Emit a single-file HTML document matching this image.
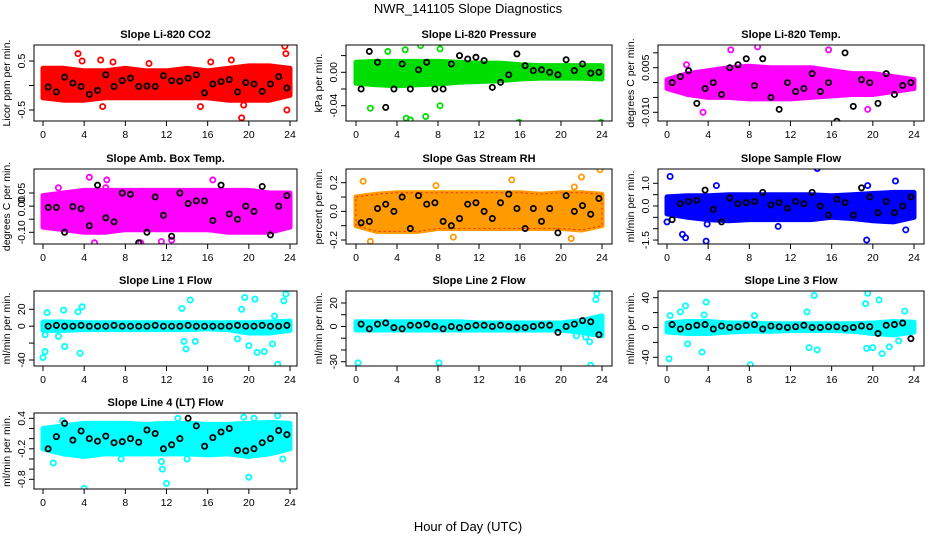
<!DOCTYPE html>
<html><head><meta charset="utf-8"><style>
html,body{margin:0;padding:0;background:#fff;}
svg{display:block;font-family:"Liberation Sans",Arial,sans-serif;}
</style></head><body>
<svg id="chart" width="936" height="540" viewBox="0 0 936 540">
<text x="468" y="13" text-anchor="middle" font-size="13">NWR_141105  Slope Diagnostics</text>
<text x="468" y="531" text-anchor="middle" font-size="13">Hour of Day (UTC)</text>
</svg>
<script>
// ---- data arrays ----
const bandHours = [0,2,4,6,8,10,12,14,16,18,20,22,24];
const blackHours = [0.5,1.3,2.1,2.9,3.7,4.5,5.3,6.1,6.9,7.7,8.5,9.3,10.1,10.9,11.7,12.5,13.3,14.1,14.9,15.7,16.5,17.3,18.1,18.9,19.7,20.5,21.3,22.1,22.9,23.7];
const xTicks = [0,4,8,12,16,20,24];

const co2Hi = [0.35,0.35,0.3,0.3,0.35,0.3,0.3,0.35,0.3,0.35,0.4,0.4,0.35];
const co2Lo = [-0.25,-0.3,-0.3,-0.25,-0.25,-0.25,-0.25,-0.25,-0.25,-0.3,-0.3,-0.3,-0.2];
const co2Out = [[3.4,0.65],[3.8,0.5],[5.6,0.52],[5.8,-0.43],[6.8,0.48],[15.3,-0.43],[16.3,0.48],[19.3,-0.66],[19.5,-0.4],[18.3,0.52],[23.5,0.8],[23.6,0.65],[23.7,-0.5],[2.2,-0.27],[10.3,0.45]];
const co2Black = [-0.03,-0.13,0.17,0.05,-0.02,-0.18,-0.1,0.22,-0.02,0.1,0.15,-0.02,-0.01,-0.02,0.2,0.1,0.09,0.15,0.22,-0.15,0.03,0.08,0.12,-0.13,0.06,0.03,-0.12,0.03,0.18,-0.05];

const presHi = [0.012,0.013,0.013,0.013,0.013,0.012,0.011,0.011,0.009,0.008,0.008,0.008,0.008];
const presLo = [-0.013,-0.015,-0.016,-0.015,-0.014,-0.012,-0.011,-0.01,-0.008,-0.007,-0.007,-0.007,-0.008];
const presOut = [[8,-0.062],[8.2,-0.04],[5.3,-0.057],[15.9,-0.06],[23.9,-0.06],[6.3,0.032],[8.2,0.028],[4.8,0.027],[3.1,0.025],[1.4,-0.043],[6.8,-0.053],[4.9,-0.055]];
const presBlack = [-0.02,0.025,0.012,-0.042,-0.02,0.01,-0.02,0.003,0.012,-0.02,-0.02,0.01,0.02,0.016,0.018,0.014,-0.018,-0.012,-0.003,0.022,0.008,0.002,0.003,0.0,-0.003,0.015,0.002,0.01,-0.001,0.0];

const tempHi = [0.001,0.003,0.004,0.005,0.0055,0.005,0.005,0.005,0.004,0.003,0.003,0.002,0.001];
const tempLo = [-0.002,-0.004,-0.005,-0.005,-0.0055,-0.0055,-0.0055,-0.005,-0.0045,-0.004,-0.004,-0.003,-0.002];
const tempOut = [[8.2,-0.014],[12,-0.014],[14.5,-0.014],[8.8,0.012],[6.2,0.011],[3.5,-0.01],[15.7,0.011],[19.5,-0.009],[1.9,0.006]];
const tempBlack = [0.0,0.002,0.004,-0.007,-0.002,0.0,-0.004,0.005,0.006,0.008,-0.001,0.008,-0.005,-0.009,0.0,-0.003,-0.002,0.003,-0.003,0.0,-0.013,0.01,-0.008,0.001,0.0,-0.007,0.003,-0.004,-0.001,0.0];

const ambHi = [0.04,0.05,0.06,0.06,0.06,0.06,0.06,0.06,0.06,0.06,0.06,0.05,0.05];
const ambLo = [-0.08,-0.09,-0.1,-0.1,-0.09,-0.09,-0.09,-0.09,-0.09,-0.1,-0.1,-0.1,-0.08];
const ambOut = [[1.5,0.07],[4.5,0.11],[6.2,0.1],[6.1,0.07],[5,-0.14],[9.5,-0.14],[11.5,-0.135],[23.3,-0.16],[16.5,0.1],[12.5,-0.13]];
const ambBlack = [-0.005,-0.005,-0.1,-0.002,-0.01,-0.075,0.08,-0.045,-0.06,0.05,0.045,-0.14,-0.1,0.035,-0.035,-0.115,0.05,0.01,0.02,0.02,-0.055,0.08,-0.03,-0.05,0.0,-0.02,0.075,-0.11,0.0,0.04];

const rhHi = [0.1,0.12,0.13,0.13,0.13,0.13,0.13,0.13,0.13,0.12,0.13,0.13,0.12];
const rhLo = [-0.1,-0.14,-0.14,-0.14,-0.12,-0.12,-0.12,-0.12,-0.12,-0.12,-0.12,-0.13,-0.1];
const rhOut = [[1.4,-0.21],[0.7,0.21],[9.5,-0.18],[15.2,0.22],[21,-0.19],[22,0.24],[23.8,0.29],[7.8,0.18],[21.3,0.17]];
const rhBlack = [-0.08,-0.07,0.02,0.05,0.0,0.1,-0.12,0.11,0.05,0.06,-0.07,-0.1,-0.05,0.05,0.06,0.0,-0.05,0.06,0.12,0.02,-0.12,0.02,-0.07,0.02,-0.15,0.11,0.0,0.04,-0.02,0.09];

const sfHi = [0.4,0.45,0.45,0.5,0.5,0.5,0.5,0.5,0.45,0.5,0.55,0.6,0.6];
const sfLo = [-0.35,-0.5,-0.6,-0.65,-0.6,-0.6,-0.6,-0.6,-0.5,-0.55,-0.65,-0.7,-0.5];
const sfOut = [[0.3,1.3],[0,-0.7],[1.5,-1.25],[1.8,-1.4],[3.8,-1.55],[4.8,0.9],[14.6,1.65],[19.4,-1.5],[19.5,0.9],[22.2,1.1],[23.2,-1.05],[3.9,-0.8],[10.8,-0.9]];
const sfBlack = [-0.6,0.1,0.2,0.25,0.7,-0.15,-0.7,0.35,0.1,0.15,0.2,0.6,0.05,0.15,-0.1,0.2,0.1,0.6,0.0,-0.4,0.3,0.15,-0.4,0.8,0.4,-0.3,0.2,-0.3,0.0,0.4];

const l1Hi = [5,5,4,4,4,4,4,4,4,4,4,5,6];
const l1Lo = [-5,-5,-4,-4,-4,-4,-4,-4,-3,-4,-8,-8,-5];
const l1Out = [[0,-37],[0.2,-30],[0.4,16],[0.2,-10],[1.5,-12],[2,19],[2.1,-24],[3.4,17],[3.6,-32],[3.8,23],[13.5,21],[13.7,-18],[14.3,31],[13.9,-27],[14.8,-18],[19.3,20],[19.6,34],[20.6,32],[20,-23],[20.8,-31],[21.5,-30],[22.3,-21],[22.8,-45],[23.4,30],[23.6,38],[22.5,12],[18.9,-15]];
const l1Black = [0,1,0,0,1,0,0,0,1,0,0,0,0,1,0,0,0,1,0,0,0,0,0,1,0,0,1,0,0,1];

const l2Hi = [4,4,4,4,4,4,3,3,3,3,3,5,9];
const l2Lo = [-3,-3,-3,-3,-3,-3,-3,-3,-3,-3,-3,-5,-8];
const l2Out = [[0.2,-31],[8.1,-31],[22.9,-33],[23.4,23],[23.5,28],[22.8,-13],[22.4,-9],[21.5,-8]];
const l2Black = [2,-2,2,3,-1,-2,1,1,2,0,-2,0,-1,0,1,1,0,1,0,-1,-1,0,1,1,-5,0,2,5,4,-7];

const l3Hi = [6,8,8,6,6,5,5,5,5,5,6,8,7];
const l3Lo = [-6,-8,-8,-6,-5,-5,-4,-4,-4,-5,-8,-10,-6];
const l3Out = [[0.2,-42],[0.3,16],[1.3,21],[1.8,29],[2,-22],[3.4,-33],[3.6,17],[3.8,34],[8.1,-50],[8.5,16],[13.6,21],[13.8,-27],[14.3,43],[14.6,-30],[19.5,46],[19.3,32],[19.4,-28],[20,-27],[20.6,37],[20.9,-35],[21.6,-26],[22.5,-18],[23.1,22]];
const l3Black = [4,-2,1,3,4,-2,2,0,1,3,4,-2,2,1,0,1,3,0,0,1,1,-1,0,2,1,-8,3,4,6,-15];

const l4Hi = [0.2,0.25,0.3,0.3,0.3,0.28,0.3,0.3,0.28,0.28,0.3,0.32,0.3];
const l4Lo = [-0.2,-0.3,-0.35,-0.3,-0.3,-0.3,-0.3,-0.3,-0.32,-0.3,-0.35,-0.3,-0.2];
const l4Out = [[1,-0.48],[4,-0.98],[11.6,-0.6],[12,-0.88],[13.1,0.4],[19.5,0.42],[20,-0.76],[22.8,0.45],[20.5,0.4],[23.3,-0.4],[11.5,-0.45],[7.6,-0.4],[14,-0.4],[1.9,0.35]];
const l4Black = [-0.2,0.04,0.3,-0.03,0.15,0.0,-0.05,0.05,-0.08,-0.06,0.0,-0.07,0.17,0.1,-0.2,-0.12,0.0,0.4,0.25,-0.15,0.02,0.13,0.2,-0.23,-0.24,-0.2,-0.08,0.0,0.16,0.08];

// ---- layout (not data) ----
const cols = [{l:34,r:297,x0:43,x24:290},{l:346,r:612,x0:356,x24:602},{l:658,r:924,x0:667,x24:914}];
const rows = [{t:45,b:121},{t:169,b:244},{t:291,b:366},{t:413,b:489}];

const panels = [
 {key:'co2',title:'Slope Li-820 CO2',yt:'Licor ppm per min.',c:0,r:0,color:'#ff0000',ref:[0.5,61,-0.5,110],ticks:[-0.5,0,0.5],labels:['-0.5','','0.5'],hi:co2Hi,lo:co2Lo,out:co2Out,blk:co2Black},
 {key:'pressure',title:'Slope Li-820 Pressure',yt:'kPa per min.',c:1,r:0,color:'#00dd00',ref:[0,72.3,-0.04,105.7],ticks:[-0.04,-0.02,0,0.02],labels:['-0.04','','0.00',''],hi:presHi,lo:presLo,out:presOut,blk:presBlack},
 {key:'temp',title:'Slope Li-820 Temp.',yt:'degrees C per min.',c:2,r:0,color:'#ff00ff',ref:[0.005,67.7,-0.010,112.3],ticks:[-0.010,-0.005,0,0.005,0.010],labels:['-0.010','','','0.005',''],hi:tempHi,lo:tempLo,out:tempOut,blk:tempBlack},
 {key:'amb',title:'Slope Amb. Box Temp.',yt:'degrees C per min.',c:0,r:1,color:'#ff00ff',ref:[0.05,193,-0.10,232.3],ticks:[-0.10,-0.05,0,0.05],labels:['-0.10','','0.00','0.05'],hi:ambHi,lo:ambLo,out:ambOut,blk:ambBlack},
 {key:'rh',title:'Slope Gas Stream RH',yt:'percent per min.',c:1,r:1,color:'#ff9a00',ref:[0.2,182.7,-0.2,240],ticks:[-0.2,-0.1,0,0.1,0.2],labels:['-0.2','','0.0','','0.2'],hi:rhHi,lo:rhLo,out:rhOut,blk:rhBlack},
 {key:'sample',title:'Slope Sample Flow',yt:'ml/min per min.',c:2,r:1,color:'#0000ff',ref:[1.0,183.3,0,206],ticks:[-1.5,-1,-0.5,0,0.5,1],labels:['-1.5','','','0.0','','1.0'],hi:sfHi,lo:sfLo,out:sfOut,blk:sfBlack},
 {key:'line1',title:'Slope Line 1 Flow',yt:'ml/min per min.',c:0,r:2,color:'#00ffff',ref:[20,309.3,-40,360],ticks:[-40,-20,0,20],labels:['-40','','0','20'],hi:l1Hi,lo:l1Lo,out:l1Out,blk:l1Black},
 {key:'line2',title:'Slope Line 2 Flow',yt:'ml/min per min.',c:1,r:2,color:'#00ffff',ref:[20,303,-30,361.7],ticks:[-30,-20,-10,0,10,20],labels:['-30','','','0','','20'],hi:l2Hi,lo:l2Lo,out:l2Out,blk:l2Black},
 {key:'line3',title:'Slope Line 3 Flow',yt:'ml/min per min.',c:2,r:2,color:'#00ffff',ref:[40,297.7,-40,357.3],ticks:[-40,-20,0,20,40],labels:['-40','','0','','40'],hi:l3Hi,lo:l3Lo,out:l3Out,blk:l3Black},
 {key:'line4',title:'Slope Line 4 (LT) Flow',yt:'ml/min per min.',c:0,r:3,color:'#00ffff',ref:[0.4,418.3,-0.8,479.3],ticks:[-0.8,-0.6,-0.4,-0.2,0,0.2,0.4],labels:['-0.8','','','-0.2','','','0.4'],hi:l4Hi,lo:l4Lo,out:l4Out,blk:l4Black}
];

const NS='http://www.w3.org/2000/svg';
const svg=document.getElementById('chart');
function mk(tag,attrs,parent){const e=document.createElementNS(NS,tag);for(const k in attrs)e.setAttribute(k,attrs[k]);(parent||svg).appendChild(e);return e;}

panels.forEach(p=>{
  const C=cols[p.c],R=rows[p.r];
  const xs=h=>C.x0+(C.x24-C.x0)*h/24;
  const k=(p.ref[3]-p.ref[1])/(p.ref[2]-p.ref[0]);
  const ys=v=>p.ref[1]+(v-p.ref[0])*k;
  const g=mk('g',{});
  
  
  const clipId='clip-'+p.key;
  const cp=mk('clipPath',{id:clipId},g);
  mk('rect',{x:C.l,y:R.t,width:C.r-C.l,height:R.b-R.t},cp);
  const data=mk('g',{'clip-path':'url(#'+clipId+')'},g);
  
  
  let d='';
  bandHours.forEach((h,i)=>{d+=(i?'L':'M')+xs(h).toFixed(1)+','+ys(p.hi[i]).toFixed(1);});
  for(let i=bandHours.length-1;i>=0;i--){d+='L'+xs(bandHours[i]).toFixed(1)+','+ys(p.lo[i]).toFixed(1);}
  const band=mk('path',{d:d+'Z',fill:p.color,stroke:p.color,'stroke-width':5,'stroke-linejoin':'round'},data);
  
  
  if(p.key==='rh'){
    const b2=mk('path',{d:d+'Z',fill:'none',stroke:'#ff2000','stroke-width':1,'stroke-dasharray':'2 3'},data);
    
    
  }
  p.out.forEach(o=>{
    const c=mk('circle',{cx:xs(o[0]),cy:ys(o[1]),r:2.6,fill:'none',stroke:p.color,'stroke-width':1.8},data);
    
    
  });
  p.blk.forEach((v,i)=>{
    const c=mk('circle',{cx:xs(blackHours[i]),cy:ys(v),r:2.6,fill:'none',stroke:'#000','stroke-width':1.8},data);
    
    
  });
  const box=mk('rect',{x:C.l,y:R.t,width:C.r-C.l,height:R.b-R.t,fill:'none',stroke:'#000','stroke-width':1},g);
  
  
  const t=mk('text',{x:(C.l+C.r)/2,y:R.t-7,'text-anchor':'middle','font-size':11,'font-weight':'bold'},g);
  t.textContent=p.title;
  
  
  mk('line',{x1:xs(0),x2:xs(24),y1:R.b,y2:R.b,stroke:'#000'},g);
  xTicks.forEach(h=>{
    mk('line',{x1:xs(h),x2:xs(h),y1:R.b,y2:R.b+5,stroke:'#000'},g);
    const tl=mk('text',{x:xs(h),y:R.b+17,'text-anchor':'middle','font-size':10.5},g);
    tl.textContent=h;
    
    
  });
  mk('line',{x1:C.l,x2:C.l,y1:ys(p.ticks[0]),y2:ys(p.ticks[p.ticks.length-1]),stroke:'#000'},g);
  p.ticks.forEach((v,i)=>{
    const y=ys(v);
    mk('line',{x1:C.l-5,x2:C.l,y1:y,y2:y,stroke:'#000'},g);
    if(p.labels[i]){
      const tl=mk('text',{x:C.l-9,y:y,'text-anchor':'middle','font-size':10.5,transform:'rotate(-90 '+(C.l-9)+' '+y+')'},g);
      tl.textContent=p.labels[i];
      
      
    }
  });
  const ym=(R.t+R.b)/2, yx=C.l-24;
  const yt=mk('text',{x:yx,y:ym,'text-anchor':'middle','font-size':10.5,transform:'rotate(-90 '+yx+' '+ym+')'},g);
  yt.textContent=p.yt;
  
  
});
</script>
</body></html>
